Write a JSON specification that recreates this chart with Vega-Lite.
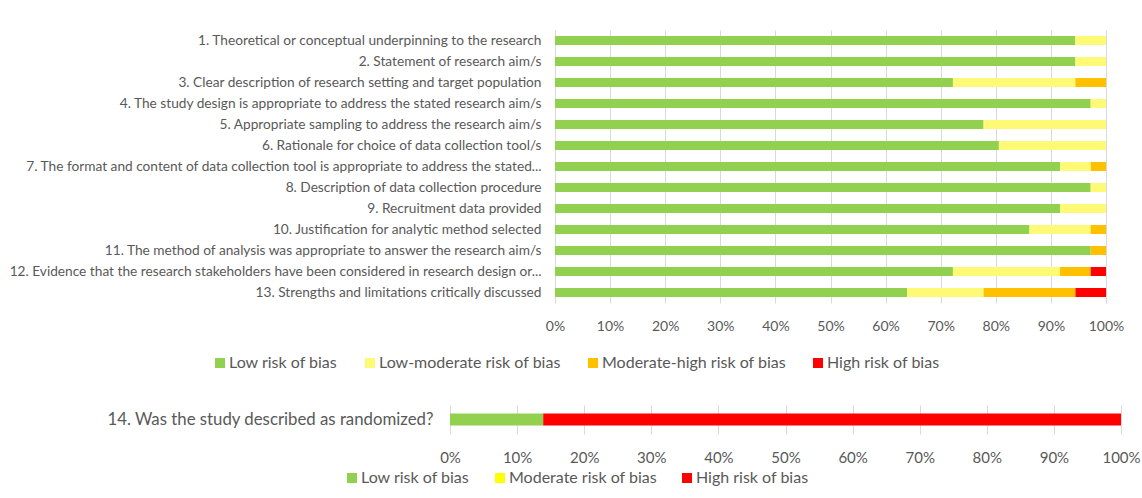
{
  "$schema": "https://vega.github.io/schema/vega-lite/v6.json",
  "background": "white",
  "padding": {"left": 0, "top": 30, "right": 0, "bottom": 0},
  "spacing": 34,
  "config": {
    "view": {"stroke": null},
    "font": "Lato",
    "axis": {"labelColor": "#595959", "labelFont": "Lato", "domain": false, "ticks": false, "title": null, "gridColor": "#d9d9d9", "gridWidth": 1, "labelFlush": false},
    "legend": {"labelColor": "#595959", "labelFont": "Lato", "symbolType": "square", "symbolStrokeWidth": 0, "title": null, "direction": "horizontal", "orient": "none", "labelLimit": 400}
  },
  "resolve": {"scale": {"color": "independent", "x": "independent", "y": "independent"}},
  "vconcat": [
    {
      "width": 551,
      "height": 273,
      "data": {"values": [
        {"item": "1. Theoretical or conceptual underpinning to the research ", "risk": "Low risk of bias", "k": 1, "v": 0.9444},
        {"item": "1. Theoretical or conceptual underpinning to the research ", "risk": "Low-moderate risk of bias", "k": 2, "v": 0.0556},
        {"item": "2. Statement of research aim/s", "risk": "Low risk of bias", "k": 1, "v": 0.9444},
        {"item": "2. Statement of research aim/s", "risk": "Low-moderate risk of bias", "k": 2, "v": 0.0556},
        {"item": "3. Clear description of research setting and target population", "risk": "Low risk of bias", "k": 1, "v": 0.7222},
        {"item": "3. Clear description of research setting and target population", "risk": "Low-moderate risk of bias", "k": 2, "v": 0.2222},
        {"item": "3. Clear description of research setting and target population", "risk": "Moderate-high risk of bias", "k": 3, "v": 0.0556},
        {"item": "4. The study design is appropriate to address the stated research aim/s", "risk": "Low risk of bias", "k": 1, "v": 0.9722},
        {"item": "4. The study design is appropriate to address the stated research aim/s", "risk": "Low-moderate risk of bias", "k": 2, "v": 0.0278},
        {"item": "5. Appropriate sampling to address the research aim/s", "risk": "Low risk of bias", "k": 1, "v": 0.7778},
        {"item": "5. Appropriate sampling to address the research aim/s", "risk": "Low-moderate risk of bias", "k": 2, "v": 0.2222},
        {"item": "6. Rationale for choice of data collection tool/s", "risk": "Low risk of bias", "k": 1, "v": 0.8056},
        {"item": "6. Rationale for choice of data collection tool/s", "risk": "Low-moderate risk of bias", "k": 2, "v": 0.1944},
        {"item": "7. The format and content of data collection tool is appropriate to address the stated...", "risk": "Low risk of bias", "k": 1, "v": 0.9167},
        {"item": "7. The format and content of data collection tool is appropriate to address the stated...", "risk": "Low-moderate risk of bias", "k": 2, "v": 0.0556},
        {"item": "7. The format and content of data collection tool is appropriate to address the stated...", "risk": "Moderate-high risk of bias", "k": 3, "v": 0.0278},
        {"item": "8. Description of data collection procedure", "risk": "Low risk of bias", "k": 1, "v": 0.9722},
        {"item": "8. Description of data collection procedure", "risk": "Low-moderate risk of bias", "k": 2, "v": 0.0278},
        {"item": "9. Recruitment data provided", "risk": "Low risk of bias", "k": 1, "v": 0.9167},
        {"item": "9. Recruitment data provided", "risk": "Low-moderate risk of bias", "k": 2, "v": 0.0833},
        {"item": "10. Justification for analytic method selected", "risk": "Low risk of bias", "k": 1, "v": 0.8611},
        {"item": "10. Justification for analytic method selected", "risk": "Low-moderate risk of bias", "k": 2, "v": 0.1111},
        {"item": "10. Justification for analytic method selected", "risk": "Moderate-high risk of bias", "k": 3, "v": 0.0278},
        {"item": "11. The method of analysis was appropriate to answer the research aim/s", "risk": "Low risk of bias", "k": 1, "v": 0.9722},
        {"item": "11. The method of analysis was appropriate to answer the research aim/s", "risk": "Moderate-high risk of bias", "k": 3, "v": 0.0278},
        {"item": "12. Evidence that the research stakeholders have been considered in research design or...", "risk": "Low risk of bias", "k": 1, "v": 0.7222},
        {"item": "12. Evidence that the research stakeholders have been considered in research design or...", "risk": "Low-moderate risk of bias", "k": 2, "v": 0.1944},
        {"item": "12. Evidence that the research stakeholders have been considered in research design or...", "risk": "Moderate-high risk of bias", "k": 3, "v": 0.0556},
        {"item": "12. Evidence that the research stakeholders have been considered in research design or...", "risk": "High risk of bias", "k": 4, "v": 0.0278},
        {"item": "13. Strengths and limitations critically discussed", "risk": "Low risk of bias", "k": 1, "v": 0.6389},
        {"item": "13. Strengths and limitations critically discussed", "risk": "Low-moderate risk of bias", "k": 2, "v": 0.1389},
        {"item": "13. Strengths and limitations critically discussed", "risk": "Moderate-high risk of bias", "k": 3, "v": 0.1667},
        {"item": "13. Strengths and limitations critically discussed", "risk": "High risk of bias", "k": 4, "v": 0.0556}
      ]},
      "mark": {"type": "bar"},
      "encoding": {
        "y": {"field": "item", "type": "nominal", "sort": null,
              "scale": {"paddingInner": 0.57, "paddingOuter": 0.285},
              "axis": {"labelFontSize": 13.7, "labelPadding": 14, "minExtent": 555, "labelLimit": 540}},
        "x": {"field": "v", "type": "quantitative", "stack": "zero",
              "scale": {"domain": [0, 1], "nice": false},
              "axis": {"values": [0, 0.1, 0.2, 0.3, 0.4, 0.5, 0.6, 0.7, 0.8, 0.9, 1], "format": ".0%", "labelFontSize": 14, "labelPadding": 16, "grid": true}},
        "order": {"field": "k", "type": "quantitative"},
        "color": {"field": "risk", "type": "nominal",
                  "scale": {"domain": ["Low risk of bias", "Low-moderate risk of bias", "Moderate-high risk of bias", "High risk of bias"],
                            "range": ["#92D050", "#FFFA75", "#FFC000", "#FF0000"]},
                  "legend": {"legendX": -343, "legendY": 325, "labelFontSize": 16, "symbolSize": 100, "columnPadding": 24, "labelOffset": 1}}
      }
    },
    {
      "width": 566,
      "height": 29,
      "data": {"values": [
        {"item": "14. Was the study described as randomized?", "risk": "Low risk of bias", "k": 1, "v": 0.1389},
        {"item": "14. Was the study described as randomized?", "risk": "High risk of bias", "k": 3, "v": 0.8611}
      ]},
      "mark": {"type": "bar"},
      "encoding": {
        "y": {"field": "item", "type": "nominal",
              "scale": {"paddingInner": 0, "paddingOuter": 0.71},
              "axis": {"labelFontSize": 16.8, "labelPadding": 122, "labelLimit": 450}},
        "x": {"field": "v", "type": "quantitative", "stack": "zero",
              "scale": {"domain": [0, 1], "nice": false, "range": [-105, 566]},
              "axis": {"values": [0, 0.1, 0.2, 0.3, 0.4, 0.5, 0.6, 0.7, 0.8, 0.9, 1], "format": ".0%", "labelFontSize": 15, "labelPadding": 16, "grid": true}},
        "order": {"field": "k", "type": "quantitative"},
        "color": {"field": "risk", "type": "nominal",
                  "scale": {"domain": ["Low risk of bias", "Moderate risk of bias", "High risk of bias"],
                            "range": ["#92D050", "#FFFF00", "#FF0000"]},
                  "legend": {"legendX": -211, "legendY": 65, "labelFontSize": 16, "symbolSize": 100, "columnPadding": 22, "labelOffset": 1}}
      }
    }
  ]
}
